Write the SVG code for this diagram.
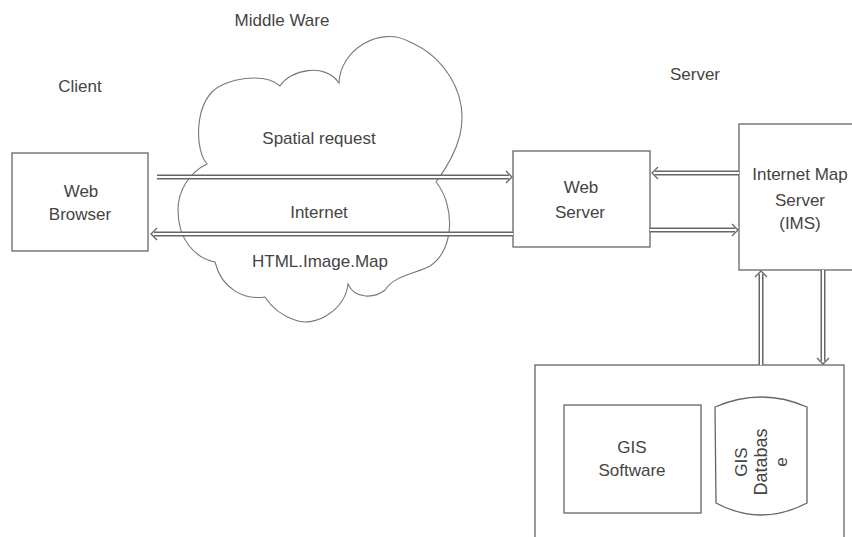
<svg xmlns="http://www.w3.org/2000/svg" width="852" height="537" viewBox="0 0 852 537">
<style>
.box{fill:#fff;stroke:#666;stroke-width:1.3}
.cloud{fill:none;stroke:#777;stroke-width:1.1}
.t{font-family:"Liberation Sans",Arial,sans-serif;font-size:17px;fill:#444;text-anchor:middle}
.so{fill:none;stroke:#666;stroke-width:5}
.si{fill:none;stroke:#fff;stroke-width:2}
.hd{fill:none;stroke:#666;stroke-width:1.3}
</style>
<rect width="852" height="537" fill="#fff"/>
<g id="labels">
<text class="t" x="282" y="26">Middle Ware</text>
<text class="t" x="80" y="92">Client</text>
<text class="t" x="695" y="80">Server</text>
</g>
<g id="middleware">
<path class="cloud" d="M207,164 C195,150 195,110 212,92 C225,78 265,72 280,86 C290,70 325,62 339,83 C340,50 380,25 410,42 C440,55 470,90 460,135 C455,155 445,170 436,182 C455,205 455,250 430,266 C415,274 395,275 385,290 C375,298 355,300 348,284 C345,310 315,328 295,320 C280,315 270,305 265,297 C245,300 222,290 215,262 C195,258 178,240 178,210 C178,190 190,172 207,164 Z"/>
<text class="t" x="319" y="144">Spatial request</text>
<text class="t" x="319" y="218">Internet</text>
<text class="t" x="320" y="267">HTML.Image.Map</text>
</g>
<g id="web-browser">
<rect class="box" x="12" y="153" width="136" height="98"/>
<text class="t" x="81" y="197">Web</text>
<text class="t" x="80" y="220">Browser</text>
</g>
<g id="web-server">
<rect class="box" x="513" y="151" width="137" height="96"/>
<text class="t" x="581" y="193">Web</text>
<text class="t" x="580" y="218">Server</text>
</g>
<g id="ims">
<rect class="box" x="739" y="124" width="125" height="146"/>
<text class="t" x="800" y="180">Internet Map</text>
<text class="t" x="800" y="206">Server</text>
<text class="t" x="800" y="229">(IMS)</text>
</g>
<g id="gis-server">
<rect class="box" x="535" y="365" width="309" height="200"/>
</g>
<g id="gis-software">
<rect class="box" x="564" y="405" width="137" height="108"/>
<text class="t" x="632" y="453">GIS</text>
<text class="t" x="632" y="476">Software</text>
</g>
<g id="gis-database">
<path class="box" d="M715,407 Q761,387 807,407 L807,503 Q761,527 716,503 Z"/>
<text class="t" transform="translate(747,462) rotate(-90)">GIS</text>
<text class="t" style="font-size:18px" transform="translate(767,462) rotate(-90)">Databas</text>
<text class="t" transform="translate(787,462) rotate(-90)">e</text>
</g>
<g id="connectors">
<path class="so" d="M157,177 H509"/><path class="si" d="M157,177 H509"/><path class="hd" d="M506,171 L512,177 L506,183"/>
<path class="so" d="M513,234 H154"/><path class="si" d="M513,234 H154"/><path class="hd" d="M157,228 L151,234 L157,240"/>
<path class="so" d="M739,173 H655"/><path class="si" d="M739,173 H655"/><path class="hd" d="M658,167 L652,173 L658,179"/>
<path class="so" d="M650,230 H735"/><path class="si" d="M650,230 H735"/><path class="hd" d="M732,224 L738,230 L732,236"/>
<path class="so" d="M761,365 V274"/><path class="si" d="M761,365 V274"/><path class="hd" d="M755,277 L761,271 L767,277"/>
<path class="so" d="M823,270 V361"/><path class="si" d="M823,270 V361"/><path class="hd" d="M817,358 L823,364 L829,358"/>
</g>
</svg>
